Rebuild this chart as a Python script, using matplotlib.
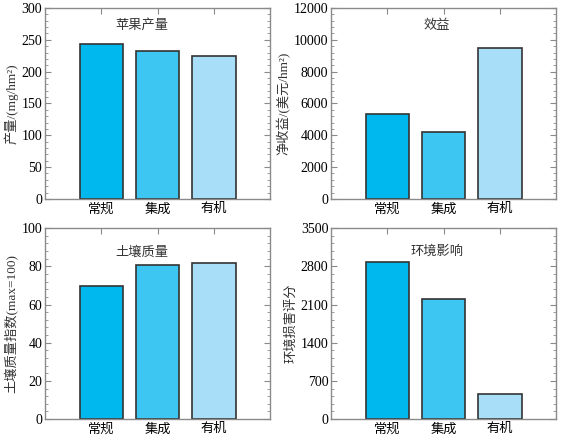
import matplotlib
matplotlib.use('Agg')
import matplotlib.pyplot as plt
from matplotlib.ticker import MultipleLocator, AutoMinorLocator

plt.rcParams['font.family'] = ['Liberation Serif', 'Noto Sans CJK SC']

# data
systems = ['常规', '集成', '有机']
yield_vals = [243, 233, 224]
profit_vals = [5350, 4200, 9500]
soil_vals = [69.5, 80.5, 82]
env_vals = [2880, 2200, 460]

colors = ['#00B8EE', '#3EC6F2', '#A9DEF9']

panels = [
    # values, title, ylabel, ymax, step, title pos
    (yield_vals, '苹果产量', '产量/(mg/hm²)', 300, 50, (0.43, 0.91)),
    (profit_vals, '效益', '净收益/(美元/hm²)', 12000, 2000, (0.47, 0.905)),
    (soil_vals, '土壤质量', '土壤质量指数(max=100)', 100, 20, (0.43, 0.875)),
    (env_vals, '环境影响', '环境损害评分', 3500, 700, (0.47, 0.88)),
]
rects = [
    [0.080, 0.551, 0.400, 0.431],
    [0.588, 0.551, 0.400, 0.431],
    [0.080, 0.054, 0.400, 0.431],
    [0.588, 0.054, 0.400, 0.431],
]

fig = plt.figure(figsize=(5.63, 4.43), dpi=100)
spine_col = '#8a8a8a'

for (vals, title, ylabel, ymax, step, tpos), rect in zip(panels, rects):
    ax = fig.add_axes(rect)
    x = [1, 2, 3]
    ax.bar(x, vals, width=0.77, color=colors, edgecolor='#333333', linewidth=1.2)
    ax.set_xlim(0, 4)
    ax.set_ylim(0, ymax)
    ax.set_xticks(x)
    ax.set_xticklabels(systems, fontsize=9.5)
    ax.yaxis.set_major_locator(MultipleLocator(step))
    ax.yaxis.set_minor_locator(AutoMinorLocator(5))
    ax.tick_params(axis='y', which='both', direction='in', left=True, right=True,
                   color=spine_col, labelsize=10, pad=2)
    ax.tick_params(axis='y', which='major', length=4)
    ax.tick_params(axis='y', which='minor', length=2.5)
    ax.tick_params(axis='x', which='both', direction='in', bottom=False, top=True,
                   length=4, color=spine_col, pad=3)
    for s in ax.spines.values():
        s.set_color(spine_col)
        s.set_linewidth(1.0)
    ax.set_ylabel(ylabel, fontsize=9.5, color='#333333', labelpad=2)
    ax.text(tpos[0], tpos[1], title, transform=ax.transAxes, ha='center', va='center',
            fontsize=9.5, color='#333333')

fig.savefig('out.png', dpi=100)
